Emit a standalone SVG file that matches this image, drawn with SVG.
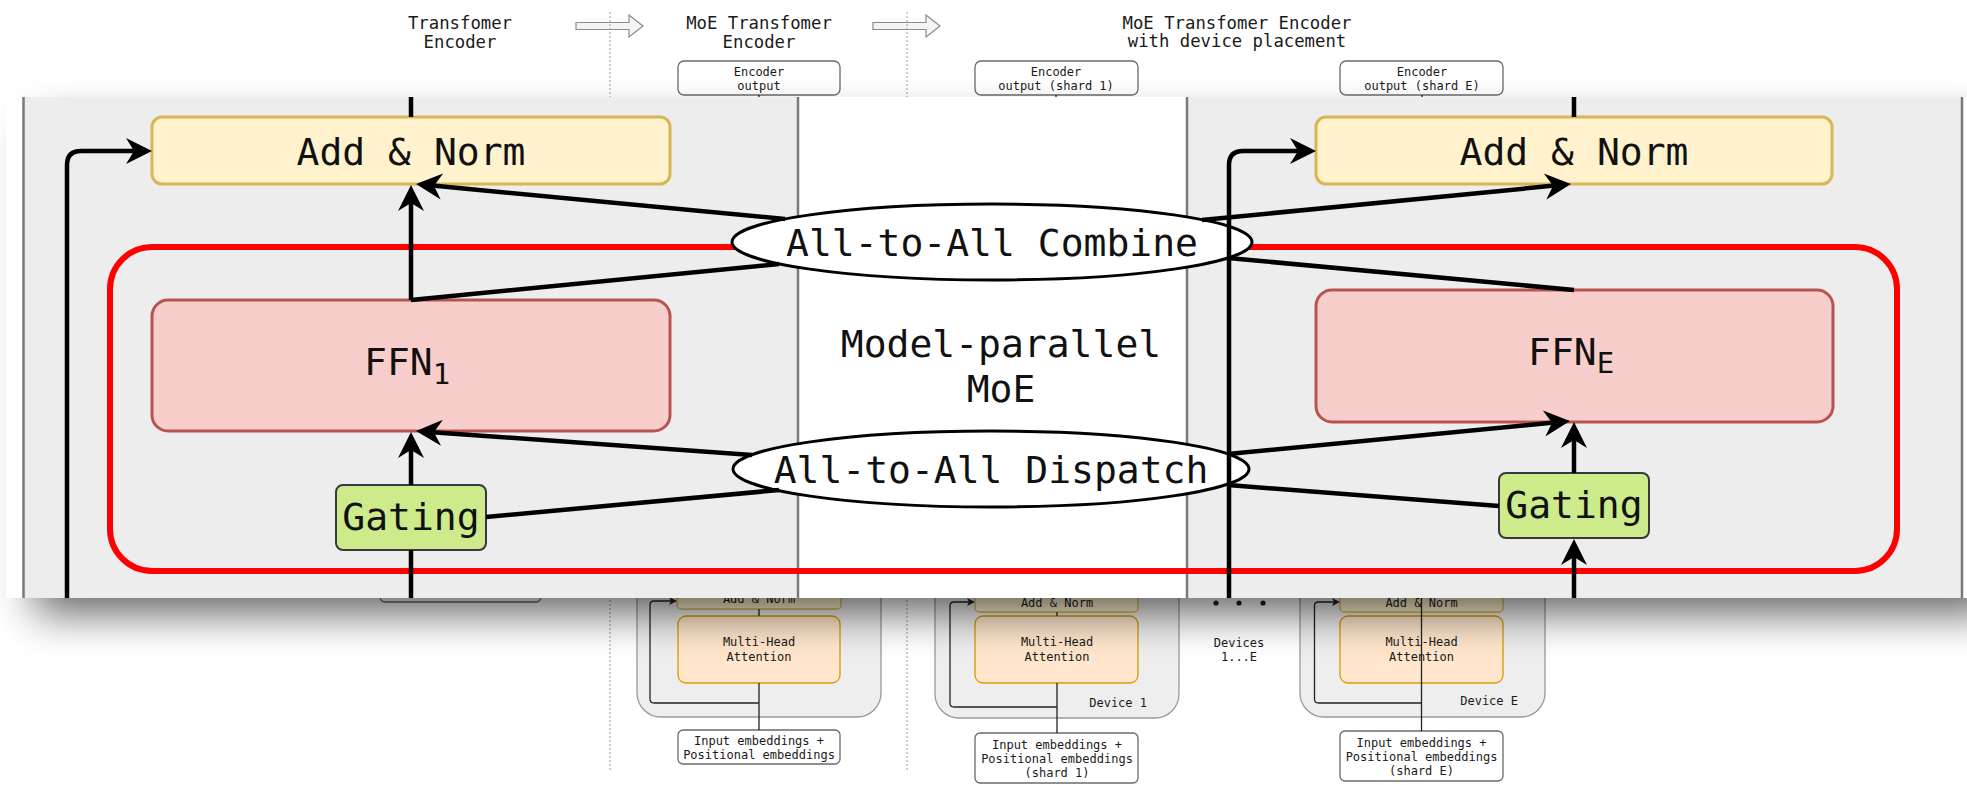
<svg xmlns="http://www.w3.org/2000/svg" width="1967" height="785" viewBox="0 0 1967 785">
  <defs>
    <style>
      .mono{font-family:"DejaVu Sans Mono","Liberation Mono",monospace;fill:#1a1a1a}
      .t-title{font-size:17.3px}
      .t-small{font-size:12px}
      .t-big{font-size:38px;fill:#111}
      .mid{text-anchor:middle}
      .end{text-anchor:end}
      .box{fill:#fff;stroke:#6b6b6b;stroke-width:1.3}
      .dev{fill:#eeeeee;stroke:#9a9a9a;stroke-width:1.3}
      .an-s{fill:#fff2cc;stroke:#d6b656;stroke-width:1.3}
      .mha{fill:#ffe6cc;stroke:#d79b00;stroke-width:1.3}
      .thin{fill:none;stroke:#222;stroke-width:1.3}
      .dots{stroke:#9a9a9a;stroke-width:1;stroke-dasharray:2 2}
      .hollow{fill:#f4f4f4;stroke:#8c8c8c;stroke-width:1.2}
      .col{fill:#ededed}
      .edge{stroke:#7a7a7a;stroke-width:2.5}
      .an{fill:#fff2cc;stroke:#d6b656;stroke-width:3}
      .ffn{fill:#f8cecc;stroke:#b85450;stroke-width:3}
      .gate{fill:#cdeb8b;stroke:#36393d;stroke-width:2}
      .a2a{fill:#fff;stroke:#000;stroke-width:3}
      .wire{fill:none;stroke:#000;stroke-width:4.5}
    </style>
    <marker id="head" markerUnits="userSpaceOnUse" markerWidth="26" markerHeight="26" refX="20" refY="13" orient="auto" overflow="visible">
      <path d="M0,0 L26,13 L0,26 L8,13 Z" fill="#000"/>
    </marker>
    <marker id="tip" markerUnits="userSpaceOnUse" markerWidth="8" markerHeight="8" refX="6" refY="4" orient="auto" overflow="visible">
      <path d="M0,0 L8,4 L0,8 L2,4 Z" fill="#222"/>
    </marker>
    <filter id="drop" x="-5%" y="-20%" width="110%" height="140%">
      <feGaussianBlur stdDeviation="22"/>
    </filter>
  </defs>

  <rect width="1967" height="785" fill="#fff"/>

  <!-- ===== full encoder diagram (background layer) ===== -->
  <g id="bg-titles" class="mono t-title mid">
    <text x="460" y="29">Transfomer</text>
    <text x="460" y="48">Encoder</text>
    <text x="759" y="29">MoE Transfomer</text>
    <text x="759" y="48">Encoder</text>
    <text x="1237" y="29">MoE Transfomer Encoder</text>
    <text x="1237" y="47">with device placement</text>
  </g>

  <g id="bg-steps">
    <path class="hollow" d="M576,22.5 L629,22.5 L629,15 L643,26 L629,37 L629,29.5 L576,29.5 Z"/>
    <path class="hollow" d="M873,22.5 L926,22.5 L926,15 L940,26 L926,37 L926,29.5 L873,29.5 Z"/>
    <line class="dots" x1="610" y1="12" x2="610" y2="770"/>
    <line class="dots" x1="907" y1="12" x2="907" y2="770"/>
  </g>

  <g id="bg-outputs">
    <rect class="box" x="678" y="61" width="162" height="34" rx="6"/>
    <text class="mono t-small mid" x="759" y="76">Encoder</text>
    <text class="mono t-small mid" x="759" y="90">output</text>
    <rect class="box" x="975" y="61" width="163" height="34" rx="6"/>
    <text class="mono t-small mid" x="1056" y="76">Encoder</text>
    <text class="mono t-small mid" x="1056" y="90">output (shard 1)</text>
    <rect class="box" x="1340" y="61" width="163" height="34" rx="6"/>
    <text class="mono t-small mid" x="1422" y="76">Encoder</text>
    <text class="mono t-small mid" x="1422" y="90">output (shard E)</text>
    <line class="thin" x1="759" y1="95" x2="759" y2="98"/>
    <line class="thin" x1="1056" y1="95" x2="1056" y2="98"/>
    <line class="thin" x1="1422" y1="95" x2="1422" y2="98"/>
  </g>

  <g id="bg-encoder-left">
    <rect class="box" x="380" y="560" width="161" height="42" rx="5"/>
  </g>

  <g id="bg-moe-block">
    <rect class="dev" x="637" y="540" width="244" height="177" rx="24"/>
    <rect class="an-s" x="677" y="570" width="164" height="39" rx="4"/>
    <text class="mono t-small mid" x="759" y="603">Add &amp; Norm</text>
    <rect class="mha" x="678" y="616" width="162" height="67" rx="8"/>
    <text class="mono t-small mid" x="759" y="646">Multi-Head</text>
    <text class="mono t-small mid" x="759" y="661">Attention</text>
    <rect class="box" x="678" y="730" width="162" height="34" rx="5"/>
    <text class="mono t-small mid" x="759" y="745">Input embeddings +</text>
    <text class="mono t-small mid" x="759" y="759">Positional embeddings</text>
  </g>

  <g id="bg-device-1">
    <rect class="dev" x="935" y="540" width="244" height="178" rx="24"/>
    <rect class="an-s" x="975" y="570" width="163" height="42" rx="4"/>
    <text class="mono t-small mid" x="1057" y="607">Add &amp; Norm</text>
    <rect class="mha" x="975" y="616" width="163" height="67" rx="8"/>
    <text class="mono t-small mid" x="1057" y="646">Multi-Head</text>
    <text class="mono t-small mid" x="1057" y="661">Attention</text>
    <text class="mono t-small end" x="1147" y="707">Device 1</text>
    <rect class="box" x="975" y="733" width="163" height="50" rx="5"/>
    <text class="mono t-small mid" x="1057" y="749">Input embeddings +</text>
    <text class="mono t-small mid" x="1057" y="763">Positional embeddings</text>
    <text class="mono t-small mid" x="1057" y="777">(shard 1)</text>
  </g>

  <g id="bg-devices-gap">
    <circle cx="1216" cy="603" r="2.6" fill="#222"/>
    <circle cx="1239" cy="603" r="2.6" fill="#222"/>
    <circle cx="1263" cy="603" r="2.6" fill="#222"/>
    <text class="mono t-small mid" x="1239" y="647">Devices</text>
    <text class="mono t-small mid" x="1239" y="661">1...E</text>
  </g>

  <g id="bg-device-e">
    <rect class="dev" x="1300" y="540" width="245" height="177" rx="24"/>
    <rect class="an-s" x="1340" y="570" width="163" height="42" rx="4"/>
    <text class="mono t-small mid" x="1421.5" y="607">Add &amp; Norm</text>
    <rect class="mha" x="1340" y="616" width="163" height="67" rx="8"/>
    <text class="mono t-small mid" x="1421.5" y="646">Multi-Head</text>
    <text class="mono t-small mid" x="1421.5" y="661">Attention</text>
    <text class="mono t-small end" x="1518" y="705">Device E</text>
    <rect class="box" x="1340" y="731" width="163" height="50" rx="5"/>
    <text class="mono t-small mid" x="1421.5" y="747">Input embeddings +</text>
    <text class="mono t-small mid" x="1421.5" y="761">Positional embeddings</text>
    <text class="mono t-small mid" x="1421.5" y="775">(shard E)</text>
  </g>

  <g id="bg-connectors">
    <line class="thin" x1="759" y1="609" x2="759" y2="616"/>
    <line class="thin" x1="759" y1="683" x2="759" y2="730"/>
    <path class="thin" d="M759,703 L654,703 Q650,703 650,699 L650,605 Q650,601 654,601 L675,601" marker-end="url(#tip)"/>
    <line class="thin" x1="1057" y1="612" x2="1057" y2="616"/>
    <line class="thin" x1="1057" y1="683" x2="1057" y2="733"/>
    <path class="thin" d="M1057,707 L954,707 Q950,707 950,703 L950,606 Q950,602 954,602 L973,602" marker-end="url(#tip)"/>
    <line class="thin" x1="1421.5" y1="590" x2="1421.5" y2="731"/>
    <path class="thin" d="M1421.5,703 L1318.5,703 Q1314.5,703 1314.5,699 L1314.5,606 Q1314.5,602 1318.5,602 L1338,602" marker-end="url(#tip)"/>
  </g>

  <!-- ===== magnified MoE layer panel ===== -->
  <rect id="panel-shadow" x="35" y="125" width="1960" height="488" fill="#000" opacity="0.62" filter="url(#drop)"/>

  <g id="panel">
    <rect x="6" y="97" width="1961" height="501" fill="#fff"/>
    <rect class="col" x="23" y="97" width="775" height="501"/>
    <rect class="col" x="1187" y="97" width="775" height="501"/>
    <line class="edge" x1="23.5" y1="97" x2="23.5" y2="598"/>
    <line class="edge" x1="798" y1="97" x2="798" y2="598"/>
    <line class="edge" x1="1187" y1="97" x2="1187" y2="598"/>
    <line class="edge" x1="1962" y1="97" x2="1962" y2="598"/>
  </g>

  <g id="moe-region">
    <rect x="110" y="247" width="1787" height="324" rx="42" fill="none" stroke="#ff0000" stroke-width="6"/>
    <text class="mono t-big mid" x="1001" y="357">Model-parallel</text>
    <text class="mono t-big mid" x="1001" y="402">MoE</text>
  </g>

  <g id="add-norm-1">
    <rect class="an" x="152" y="117" width="518" height="67" rx="10"/>
    <text class="mono t-big mid" x="411" y="165">Add &amp; Norm</text>
  </g>
  <g id="ffn-1">
    <rect class="ffn" x="152" y="300" width="518" height="131" rx="16"/>
    <text class="mono t-big" x="364" y="375">FFN<tspan font-size="29" dy="9">1</tspan></text>
  </g>
  <g id="gating-1">
    <rect class="gate" x="336" y="485" width="150" height="65" rx="7"/>
    <text class="mono t-big mid" x="411" y="530">Gating</text>
  </g>

  <g id="add-norm-e">
    <rect class="an" x="1316" y="117" width="516" height="67" rx="10"/>
    <text class="mono t-big mid" x="1574" y="165">Add &amp; Norm</text>
  </g>
  <g id="ffn-e">
    <rect class="ffn" x="1316" y="290" width="517" height="132" rx="16"/>
    <text class="mono t-big" x="1528" y="365">FFN<tspan font-size="29" dy="8">E</tspan></text>
  </g>
  <g id="gating-e">
    <rect class="gate" x="1499" y="473" width="150" height="65" rx="7"/>
    <text class="mono t-big mid" x="1574" y="518">Gating</text>
  </g>

  <g id="a2a-combine">
    <ellipse class="a2a" cx="992" cy="242" rx="260" ry="38"/>
    <text class="mono t-big mid" x="992" y="256">All-to-All Combine</text>
  </g>
  <g id="a2a-dispatch">
    <ellipse class="a2a" cx="991" cy="469" rx="258" ry="38"/>
    <text class="mono t-big mid" x="991" y="483">All-to-All Dispatch</text>
  </g>

  <g id="connectors" class="wire">
    <!-- residual paths -->
    <path d="M67,598 L67,165 Q67,151 81,151 L146,151" marker-end="url(#head)"/>
    <path d="M1229,598 L1229,165 Q1229,151 1243,151 L1310,151" marker-end="url(#head)"/>
    <!-- left expert -->
    <line x1="411" y1="97" x2="411" y2="117"/>
    <line x1="411" y1="300" x2="411" y2="191" marker-end="url(#head)"/>
    <line x1="785" y1="219" x2="422" y2="184.6" marker-end="url(#head)"/>
    <line x1="411" y1="300" x2="779" y2="264"/>
    <line x1="752" y1="455" x2="422" y2="431.4" marker-end="url(#head)"/>
    <line x1="411" y1="485" x2="411" y2="438" marker-end="url(#head)"/>
    <line x1="486" y1="517" x2="779" y2="490"/>
    <line x1="411" y1="598" x2="411" y2="550"/>
    <!-- right expert -->
    <line x1="1574" y1="97" x2="1574" y2="117"/>
    <line x1="1202" y1="220" x2="1565" y2="184.6" marker-end="url(#head)"/>
    <line x1="1574" y1="290" x2="1228" y2="258"/>
    <line x1="1228" y1="454" x2="1564" y2="421.6" marker-end="url(#head)"/>
    <line x1="1574" y1="473" x2="1574" y2="428" marker-end="url(#head)"/>
    <line x1="1499" y1="506" x2="1228" y2="485"/>
    <line x1="1574" y1="598" x2="1574" y2="545" marker-end="url(#head)"/>
  </g>
</svg>
